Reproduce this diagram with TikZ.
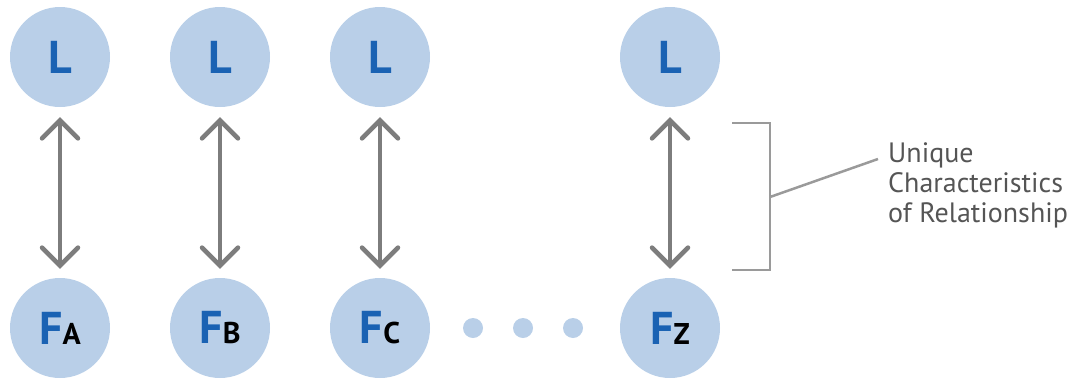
\documentclass[tikz,border=0pt]{standalone}
\usepackage{fontspec}
\setmainfont{PT Sans}
\usepackage{xcolor}
\usepackage{tikz}
\usetikzlibrary{arrows.meta}
\definecolor{bubble}{HTML}{B9CFE8}
\definecolor{lblue}{HTML}{1A62B3}
\definecolor{arrowgray}{HTML}{7D7D7D}
\definecolor{brgray}{HTML}{9A9A9A}
\definecolor{txtgray}{HTML}{555555}

\begin{document}
\begin{tikzpicture}[x=1pt,y=-1pt,
    party/.style={circle,fill=bubble,minimum size=100pt,inner sep=0pt,font=\bfseries},
    dot/.style={circle,fill=bubble,minimum size=20pt,inner sep=0pt},
    link/.style={arrowgray,line width=4.5pt,shorten <=10pt,shorten >=9pt,
        {Straight Barb[length=18pt,width=36pt,line cap=round]}-{Straight Barb[length=18pt,width=36pt,line cap=round]}}]
                \useasboundingbox (0,0) rectangle (1067,383);
                \node[party] (L1) at (60,57) {\fontsize{46}{46}\selectfont\color{lblue}L};
                \node[party] (L2) at (220,57) {\fontsize{46}{46}\selectfont\color{lblue}L};
                \node[party] (L3) at (380,57) {\fontsize{46}{46}\selectfont\color{lblue}L};
                \node[party] (L4) at (670,57) {\fontsize{46}{46}\selectfont\color{lblue}L};
                \node[party] (F1) at (60,328) {\fontsize{46}{46}\selectfont\color{lblue}F\fontsize{30}{30}\selectfont\color{black}A};
                \node[party] (F2) at (220,328) {\fontsize{46}{46}\selectfont\color{lblue}F\fontsize{30}{30}\selectfont\color{black}B};
                \node[party] (F3) at (380,328) {\fontsize{46}{46}\selectfont\color{lblue}F\fontsize{30}{30}\selectfont\color{black}C};
                \node[party] (F4) at (670,328) {\fontsize{46}{46}\selectfont\color{lblue}F\fontsize{30}{30}\selectfont\color{black}Z};
                \node[dot] (d1) at (473,328) {};
                \node[dot] (d2) at (523,328) {};
                \node[dot] (d3) at (573,328) {};
                \draw[link] (L1) -- (F1);
                \draw[link] (L2) -- (F2);
                \draw[link] (L3) -- (F3);
                \draw[link] (L4) -- (F4);
                % bracket and its note
                \coordinate (bt) at (732,123);
                \coordinate (bb) at (732,270);
                \coordinate (bm) at (770,197);
                \draw[brgray,line width=2.5pt] (bt) -| (770,270) -- (bb);
                \node[anchor=west,align=left,text=txtgray,font=\fontsize{28}{30}\selectfont,inner sep=0pt] (note) at (888,185)
                    {Unique\\Characteristics\\of Relationship};
                \draw[brgray,line width=2.5pt] (bm) -- (878,159);
            \end{tikzpicture}
\end{document}
